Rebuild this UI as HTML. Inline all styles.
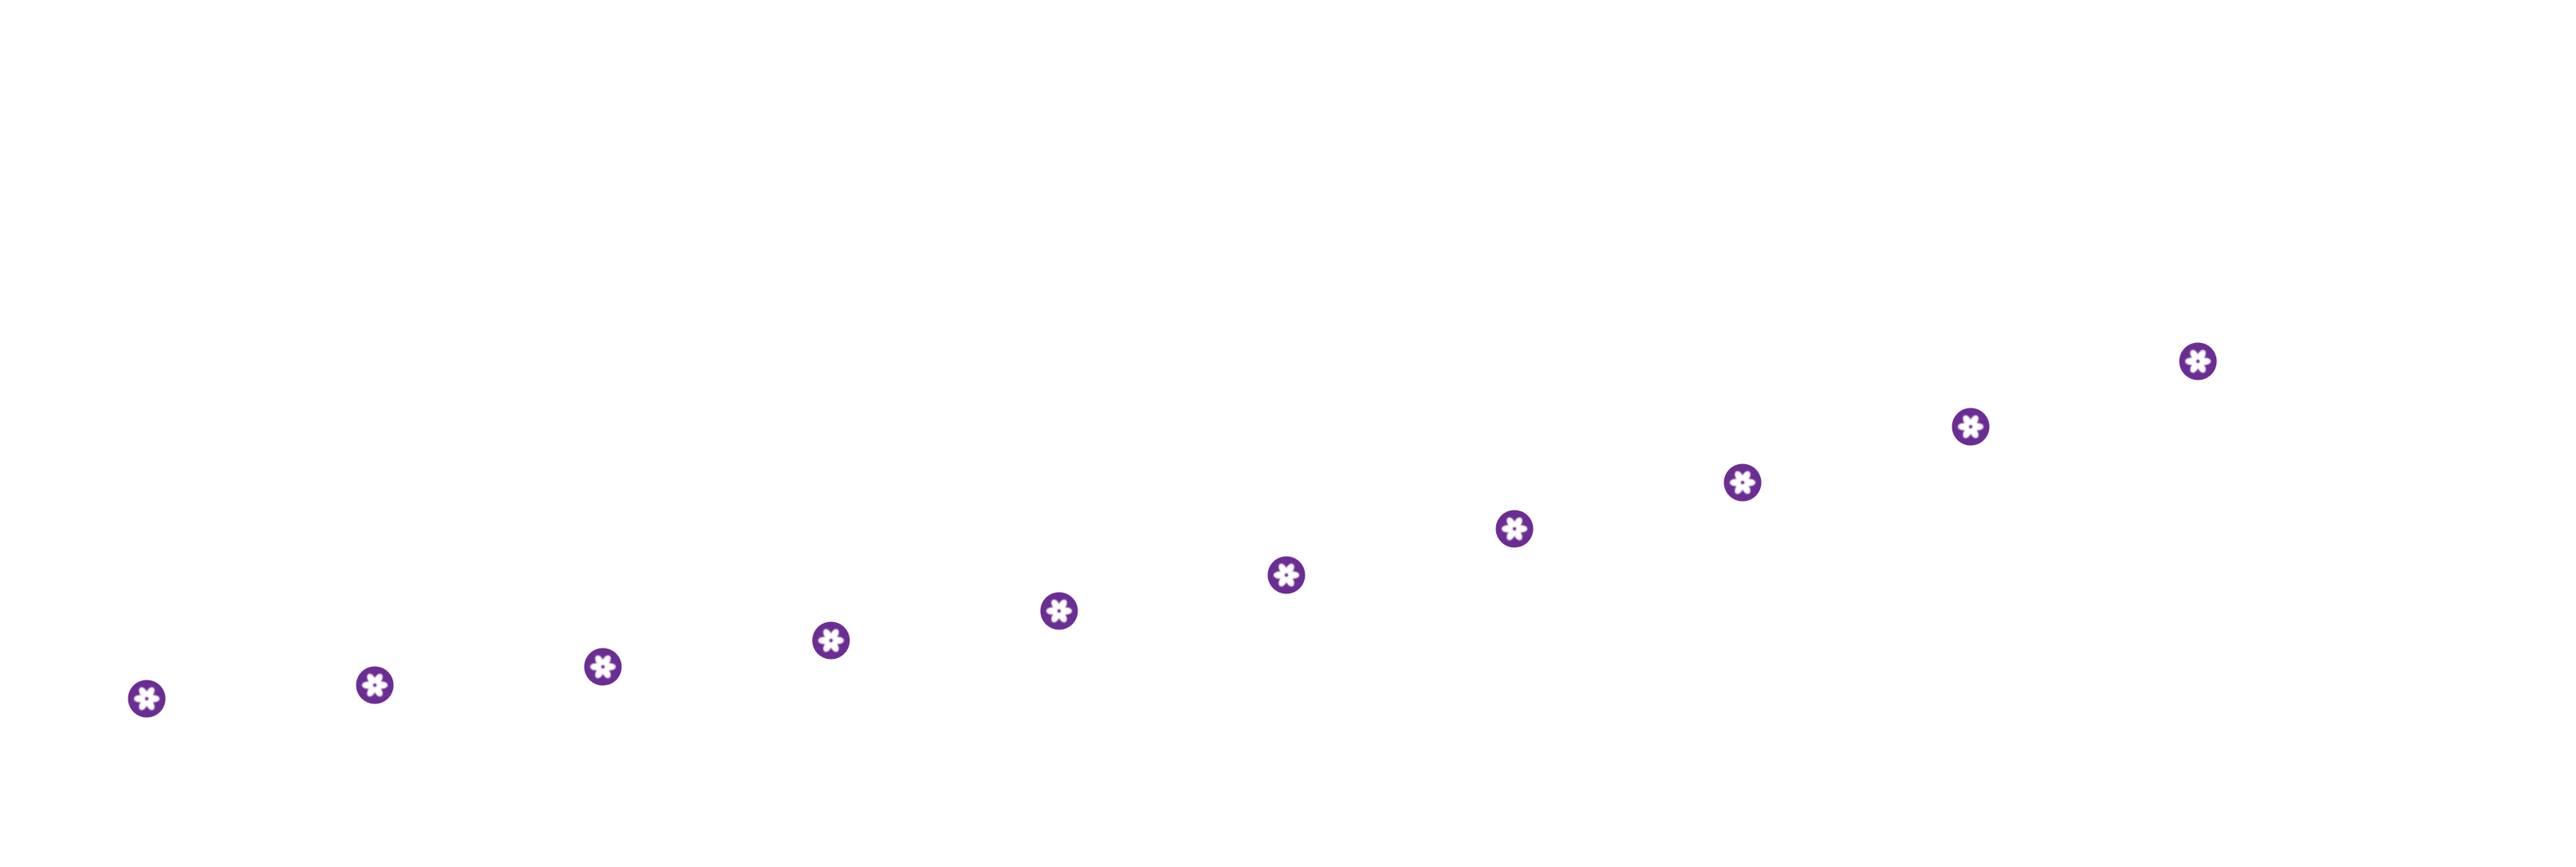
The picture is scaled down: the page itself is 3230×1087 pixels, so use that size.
<!DOCTYPE html>
<html><head><style>html,body{margin:0;padding:0;background:#fff}</style></head>
<body>
<svg width="3230" height="1082" viewBox="0 0 3230 1082" xmlns="http://www.w3.org/2000/svg">
<defs>
<filter id="b"><feGaussianBlur stdDeviation="0.9"/></filter>
<g id="m">
<circle r="23.5" fill="#6b2d93"/>
<g fill="#fff" filter="url(#b)" transform="rotate(30)">
<ellipse cx="0" cy="-9" rx="4.5" ry="7"/>
<ellipse cx="0" cy="-9" rx="4.5" ry="7" transform="rotate(60)"/>
<ellipse cx="0" cy="-9" rx="4.5" ry="7" transform="rotate(120)"/>
<ellipse cx="0" cy="-9" rx="4.5" ry="7" transform="rotate(180)"/>
<ellipse cx="0" cy="-9" rx="4.5" ry="7" transform="rotate(240)"/>
<ellipse cx="0" cy="-9" rx="4.5" ry="7" transform="rotate(300)"/>
</g>
</g>
</defs>
<use href="#m" x="184" y="876"/>
<use href="#m" x="470" y="859"/>
<use href="#m" x="756" y="836"/>
<use href="#m" x="1042" y="803"/>
<use href="#m" x="1328" y="766"/>
<use href="#m" x="1613" y="721"/>
<use href="#m" x="1899" y="663"/>
<use href="#m" x="2185" y="605"/>
<use href="#m" x="2471" y="535"/>
<use href="#m" x="2756" y="453"/>
</svg>
</body></html>
